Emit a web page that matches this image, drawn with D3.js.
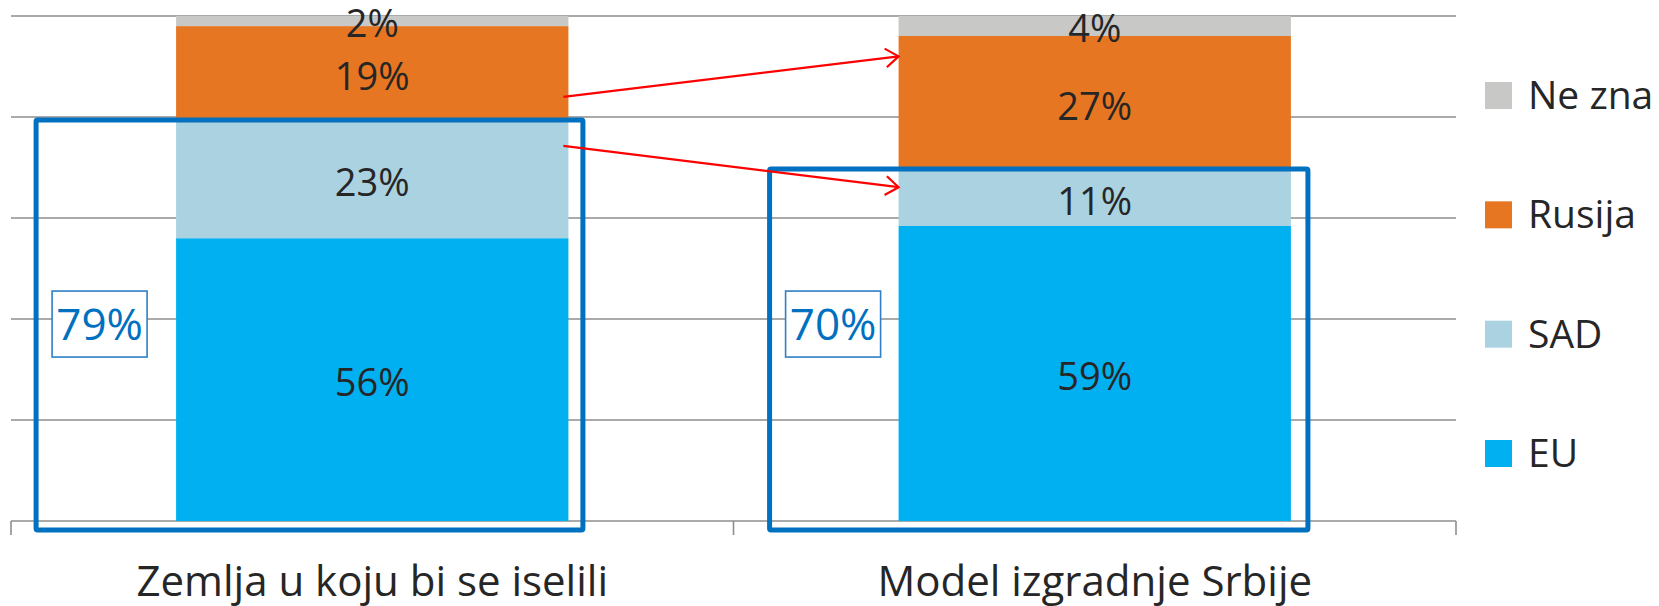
<!DOCTYPE html>
<html>
<head>
<meta charset="utf-8">
<script src="https://cdn.jsdelivr.net/npm/d3@7"></script>
<style>
  html, body { margin: 0; padding: 0; background: #fff; }
  svg { display: block; font-family: "Open Sans", sans-serif; }
</style>
</head>
<body>
<svg id="chart" width="1659" height="606"></svg>
<script>
// ---- data ----
const categories = ["Zemlja u koju bi se iselili", "Model izgradnje Srbije"];
const seriesNames = ["EU", "SAD", "Rusija", "Ne zna"];
const euValues = [56, 59];
const sadValues = [23, 11];
const rusijaValues = [19, 27];
const neZnaValues = [2, 4];
const groupLabels = ["79%", "70%"];
const gridTicks = [0, 0.2, 0.4, 0.6, 0.8, 1];
// arrow endpoints as share of the 100% stacked axis: [from (bar 1), to (bar 2)]
const arrowRusija = [0.84, 0.92];
const arrowSad = [0.743, 0.661];

const colors = {"EU": "#00B0F0", "SAD": "#ABD2E1", "Rusija": "#E67622", "Ne zna": "#C8C8C6"};

const svg = d3.select("#chart");
const W = 1659, H = 606;
const plot = {left: 11, right: 1456, top: 16, bottom: 521};

const rows = categories.map((c, i) => {
  const total = euValues[i] + sadValues[i] + rusijaValues[i] + neZnaValues[i];
  return {cat: c, "EU": euValues[i], "SAD": sadValues[i], "Rusija": rusijaValues[i], "Ne zna": neZnaValues[i], total};
});

const x = d3.scaleBand().domain(categories).range([plot.left, plot.right])
  .paddingInner(0.457).paddingOuter(0.2285);
const y = d3.scaleLinear().domain([0, 1]).range([plot.bottom, plot.top]);

// gridlines
svg.append("g").selectAll("line").data(gridTicks).join("line")
  .attr("x1", plot.left).attr("x2", plot.right)
  .attr("y1", d => y(d)).attr("y2", d => y(d))
  .attr("stroke", "#8E8E8E").attr("stroke-width", 1.6);

// category ticks
const step = x.step();
const tickXs = [plot.left, plot.left + step, plot.left + 2 * step];
svg.append("g").selectAll("line").data(tickXs).join("line")
  .attr("x1", d => d).attr("x2", d => d)
  .attr("y1", plot.bottom).attr("y2", plot.bottom + 14)
  .attr("stroke", "#8E8E8E").attr("stroke-width", 1.6);

// stacked (normalized) bars
const stack = d3.stack().keys(seriesNames).value((d, k) => d[k] / d.total);
const series = stack(rows);

const gBars = svg.append("g");
series.forEach(s => {
  gBars.append("g").selectAll("rect").data(s).join("rect")
    .attr("x", d => x(d.data.cat))
    .attr("width", x.bandwidth())
    .attr("y", d => y(d[1]))
    .attr("height", d => y(d[0]) - y(d[1]))
    .attr("fill", colors[s.key]);
});

// data labels
series.forEach(s => {
  svg.append("g").selectAll("text").data(s).join("text")
    .attr("x", d => x(d.data.cat) + x.bandwidth() / 2)
    .attr("y", d => (y(d[0]) + y(d[1])) / 2 + 16)
    .attr("text-anchor", "middle")
    .attr("font-size", 38)
    .attr("fill", "#262626")
    .text(d => d.data[s.key] + "%");
});

// blue outline boxes around EU+SAD
const boxData = rows.map((r, i) => ({
  cat: r.cat,
  share: (r["EU"] + r["SAD"]) / r.total,
  label: groupLabels[i],
  leftExt: i === 0 ? 140 : 129,
  rightExt: i === 0 ? 14.5 : 17
}));
svg.append("g").selectAll("rect").data(boxData).join("rect")
  .attr("x", d => x(d.cat) - d.leftExt)
  .attr("y", d => y(d.share) - 2)
  .attr("width", d => x.bandwidth() + d.leftExt + d.rightExt)
  .attr("height", d => y(0) + 9 - (y(d.share) - 2))
  .attr("fill", "none")
  .attr("stroke", "#0070C0")
  .attr("stroke-width", 5)
  .attr("rx", 1.5);

// group total labels (boxed)
const lbl = svg.append("g").selectAll("g").data(boxData).join("g");
lbl.append("rect")
  .attr("x", d => x(d.cat) - d.leftExt + 16)
  .attr("y", y(0.39) - 33)
  .attr("width", 95)
  .attr("height", 66)
  .attr("fill", "#fff")
  .attr("stroke", "#2E7FC6")
  .attr("stroke-width", 1.6);
lbl.append("text")
  .attr("x", d => x(d.cat) - d.leftExt + 16 + 47.5)
  .attr("y", y(0.39) + 16)
  .attr("text-anchor", "middle")
  .attr("font-size", 44)
  .attr("fill", "#0070C0")
  .text(d => d.label);

// red arrows
const x0 = x(categories[0]) + x.bandwidth() - 5;
const x1 = x(categories[1]);
const arrows = [arrowRusija, arrowSad].map(a => ({x0, y0: y(a[0]), x1, y1: y(a[1])}));
const gArr = svg.append("g").attr("stroke", "#FF0000").attr("stroke-width", 2.2).attr("fill", "none");
arrows.forEach(a => {
  gArr.append("line").attr("x1", a.x0).attr("y1", a.y0).attr("x2", a.x1).attr("y2", a.y1);
  const ang = Math.atan2(a.y1 - a.y0, a.x1 - a.x0);
  const L = 16, spread = Math.PI / 5;
  const p1 = [a.x1 - L * Math.cos(ang - spread), a.y1 - L * Math.sin(ang - spread)];
  const p2 = [a.x1 - L * Math.cos(ang + spread), a.y1 - L * Math.sin(ang + spread)];
  gArr.append("path").attr("d", `M${p1[0]},${p1[1]}L${a.x1},${a.y1}L${p2[0]},${p2[1]}`)
    .attr("stroke-linejoin", "miter");
});

// category labels
svg.append("g").selectAll("text").data(categories).join("text")
  .attr("x", d => x(d) + x.bandwidth() / 2)
  .attr("y", 596)
  .attr("text-anchor", "middle")
  .attr("font-size", 42)
  .attr("fill", "#262626")
  .text(d => d);

// legend
const legendOrder = seriesNames.slice().reverse();
const ly = d3.scalePoint().domain(legendOrder).range([82, 440]);
const lg = svg.append("g").selectAll("g").data(legendOrder).join("g")
  .attr("transform", d => `translate(1485,${ly(d)})`);
lg.append("rect").attr("width", 27).attr("height", 27).attr("fill", d => colors[d]);
lg.append("text").attr("x", 43).attr("y", 27).attr("font-size", 39).attr("fill", "#262626").text(d => d);
</script>
</body>
</html>
